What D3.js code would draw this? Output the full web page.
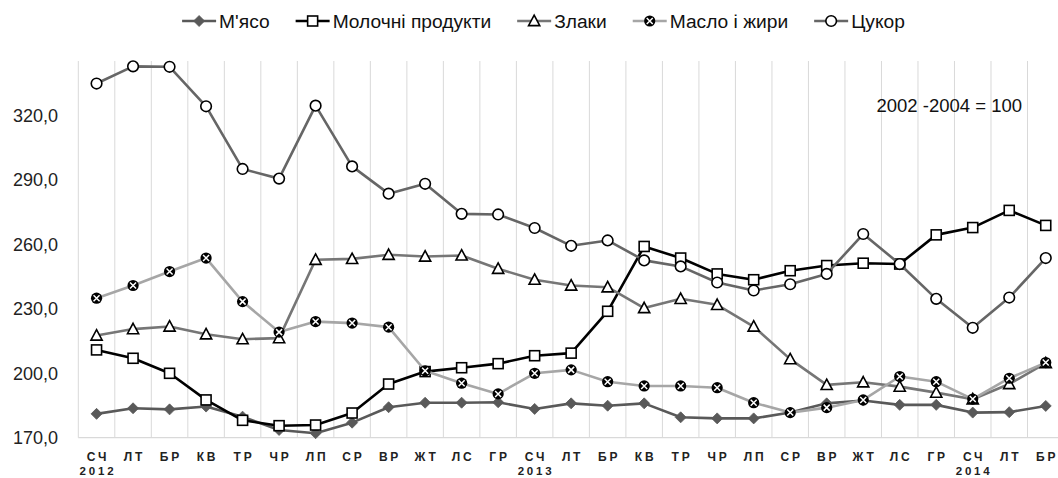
<!DOCTYPE html>
<html>
<head>
<meta charset="utf-8">
<script src="https://cdn.jsdelivr.net/npm/d3@7"></script>
<style>
  html, body { margin: 0; padding: 0; background: #fff; }
  svg { display: block; font-family: "Liberation Sans", Arial, sans-serif; }
</style>
</head>
<body>
<svg id="chart" width="1058" height="478"></svg>
<script>
// Month labels (Ukrainian abbreviations), Jan 2012 – Mar 2014
const months = ["СЧ","ЛТ","БР","КВ","ТР","ЧР","ЛП","СР","ВР","ЖТ","ЛС","ГР",
                "СЧ","ЛТ","БР","КВ","ТР","ЧР","ЛП","СР","ВР","ЖТ","ЛС","ГР",
                "СЧ","ЛТ","БР"];
const yearLabels = [{ at: 0, text: "2012" }, { at: 12, text: "2013" }, { at: 24, text: "2014" }];
const yTicks = [170, 200, 230, 260, 290, 320];

// Price indices (2002-2004 = 100)
const meat    = [181.1,183.7,183.2,184.5,179.8,173.6,172.1,177.0,184.2,186.3,186.3,186.5,183.4,186.0,184.9,186.0,179.5,179.0,179.0,181.7,186.0,187.3,185.3,185.3,181.7,181.9,184.8];
const dairy   = [210.9,207.0,200.0,187.6,178.1,175.6,175.9,181.5,195.0,200.8,202.6,204.5,208.2,209.4,228.9,259.1,253.7,246.3,243.6,247.8,250.2,251.3,250.9,264.5,267.9,275.9,268.9];
const cereals = [217.6,220.6,221.8,218.2,215.9,216.4,252.9,253.3,255.2,254.4,254.9,248.7,243.6,240.9,240.1,230.4,234.7,231.9,221.8,206.6,194.6,195.8,193.8,191.0,187.9,195.0,204.7];
const oils    = [235.0,240.9,247.4,253.7,233.4,219.2,224.1,223.4,221.5,201.2,195.4,190.4,200.0,201.6,196.1,194.1,194.1,193.3,186.3,181.7,184.0,187.6,198.5,196.1,188.0,197.7,205.0];
const sugar   = [335.0,343.0,342.8,324.4,295.2,290.7,324.7,296.4,283.7,288.3,274.3,274.0,267.7,259.4,261.9,252.6,249.8,242.3,238.6,241.5,246.3,264.9,250.9,234.7,221.2,235.3,253.7];

const seriesNames = ["М'ясо", "Молочні продукти", "Злаки", "Масло і жири", "Цукор"];

const series = [
  { name: seriesNames[0], values: meat,    line: "#595959", marker: "diamond" },
  { name: seriesNames[1], values: dairy,   line: "#000000", marker: "square" },
  { name: seriesNames[2], values: cereals, line: "#767676", marker: "triangle" },
  { name: seriesNames[3], values: oils,    line: "#a6a6a6", marker: "xcircle" },
  { name: seriesNames[4], values: sugar,   line: "#666666", marker: "circle" }
];

const svg = d3.select("#chart");
const plot = { left: 78.3, right: 1064, top: 61, bottom: 437.7 };

const x = d3.scaleBand()
  .domain(d3.range(months.length))
  .range([plot.left, plot.right])
  .paddingInner(0).paddingOuter(0);
const cx = i => x(i) + x.bandwidth() / 2;

const y = d3.scaleLinear().domain([170, 345.5]).range([plot.bottom, plot.top]);

// vertical category gridlines
svg.append("g").selectAll("line")
  .data(d3.range(months.length + 1))
  .join("line")
  .attr("x1", i => plot.left + i * x.bandwidth())
  .attr("x2", i => plot.left + i * x.bandwidth())
  .attr("y1", plot.top).attr("y2", plot.bottom)
  .attr("stroke", "#d9d9d9").attr("stroke-width", 1);

// x axis baseline
svg.append("line")
  .attr("x1", plot.left).attr("x2", plot.right)
  .attr("y1", plot.bottom).attr("y2", plot.bottom)
  .attr("stroke", "#d9d9d9").attr("stroke-width", 1.2);

// y axis labels
const yAxis = d3.axisLeft(y).tickValues(yTicks).tickSize(0).tickPadding(0)
  .tickFormat(d => d3.format(".1f")(d).replace(".", ","));
const yg = svg.append("g").attr("transform", `translate(58,0)`).call(yAxis);
yg.select(".domain").remove();
yg.selectAll("text").attr("font-size", 18).attr("fill", "#222")
  .attr("font-family", "Liberation Sans, Arial, sans-serif");

// x axis labels
const xAxis = d3.axisBottom(x).tickSize(0).tickPadding(0).tickFormat(i => months[i]);
const xg = svg.append("g").attr("transform", `translate(0,${plot.bottom})`).call(xAxis);
xg.select(".domain").remove();
xg.selectAll("text")
  .attr("y", 14.5).attr("dy", "0.71em")
  .attr("font-size", 12).attr("font-weight", "bold")
  .attr("letter-spacing", "2.8px").attr("dx", 1.4)
  .attr("fill", "#222")
  .attr("font-family", "Liberation Sans, Arial, sans-serif");

svg.append("g").selectAll("text")
  .data(yearLabels)
  .join("text")
  .attr("x", d => cx(d.at) + 1.4)
  .attr("y", 475)
  .attr("text-anchor", "middle")
  .attr("font-size", 11.5).attr("font-weight", "bold")
  .attr("letter-spacing", "2.8px")
  .attr("fill", "#222")
  .text(d => d.text);

// base-period note
svg.append("text")
  .attr("x", 1022).attr("y", 111.5)
  .attr("text-anchor", "end")
  .attr("font-size", 18.5).attr("fill", "#111")
  .text("2002 -2004 = 100");

// marker drawing
function drawMarker(g, type, color) {
  switch (type) {
    case "diamond":
      g.append("path").attr("d", "M0,-5.5L5.5,0L0,5.5L-5.5,0Z")
        .attr("fill", color).attr("stroke", color).attr("stroke-width", 0.8);
      break;
    case "square":
      g.append("rect").attr("x", -5).attr("y", -5).attr("width", 10).attr("height", 10)
        .attr("fill", "#fff").attr("stroke", "#000").attr("stroke-width", 1.6);
      break;
    case "triangle":
      g.append("path").attr("d", "M0,-5.8L5.6,4.6L-5.6,4.6Z")
        .attr("fill", "#fff").attr("stroke", "#000").attr("stroke-width", 1.6)
        .attr("stroke-linejoin", "miter");
      break;
    case "xcircle":
      g.append("circle").attr("r", 5.6).attr("fill", "#000");
      g.append("path").attr("d", "M-3,-3L3,3M3,-3L-3,3")
        .attr("stroke", "#fff").attr("stroke-width", 1.5);
      break;
    case "circle":
      g.append("circle").attr("r", 5.3)
        .attr("fill", "#fff").attr("stroke", "#000").attr("stroke-width", 1.6);
      break;
  }
}

const line = d3.line().x((d, i) => cx(i)).y(d => y(d));

series.forEach(s => {
  const g = svg.append("g");
  g.append("path")
    .attr("d", line(s.values))
    .attr("fill", "none")
    .attr("stroke", s.line)
    .attr("stroke-width", 2.6)
    .attr("stroke-linejoin", "round");
  s.values.forEach((v, i) => {
    const m = g.append("g").attr("transform", `translate(${cx(i)},${y(v)})`);
    drawMarker(m, s.marker, s.line);
  });
});

// legend
const legend = svg.append("g");
const legendY = 21;
const itemGroups = series.map(s => {
  const g = legend.append("g");
  g.append("line").attr("x1", 0).attr("x2", 34).attr("y1", 0).attr("y2", 0)
    .attr("stroke", s.line).attr("stroke-width", 2.6);
  const m = g.append("g").attr("transform", "translate(17,0)");
  drawMarker(m, s.marker, s.line);
  const t = g.append("text").attr("x", 37).attr("y", 0).attr("dy", "0.35em")
    .attr("font-size", 19.2).attr("fill", "#111").text(s.name);
  return { g, width: 37 + t.node().getComputedTextLength() };
});
const gap = 26;
const total = d3.sum(itemGroups, d => d.width) + gap * (itemGroups.length - 1);
let pos = 543.5 - total / 2;
itemGroups.forEach(it => {
  it.g.attr("transform", `translate(${pos},${legendY})`);
  pos += it.width + gap;
});
</script>
</body>
</html>
